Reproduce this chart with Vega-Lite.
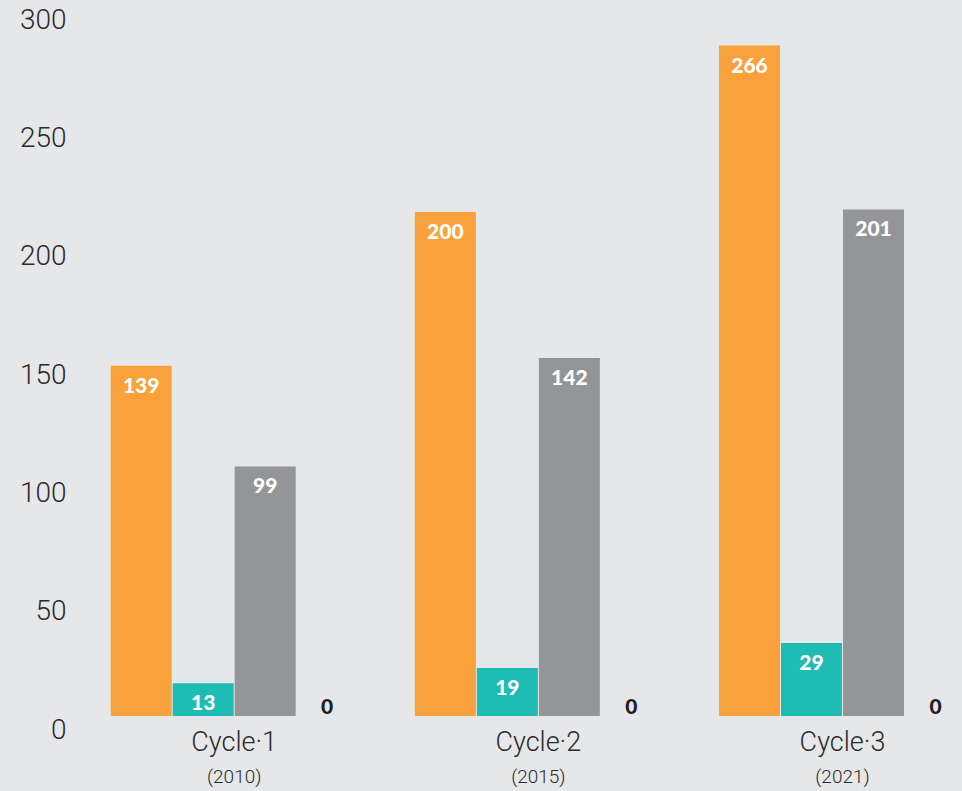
{
  "$schema": "https://vega.github.io/schema/vega-lite/v6.json",
  "width": 882,
  "height": 710,
  "autosize": {"type": "none"},
  "padding": {"left": 80, "top": 6, "right": 0, "bottom": 75},
  "background": "#e6e7e8",
  "config": {"view": {"stroke": null}},
  "data": {
    "values": [
      {"cycle": "Cycle·1", "year": "(2010)", "series": "s1", "value": 139},
      {"cycle": "Cycle·1", "year": "(2010)", "series": "s2", "value": 13},
      {"cycle": "Cycle·1", "year": "(2010)", "series": "s3", "value": 99},
      {"cycle": "Cycle·1", "year": "(2010)", "series": "s4", "value": 0},
      {"cycle": "Cycle·2", "year": "(2015)", "series": "s1", "value": 200},
      {"cycle": "Cycle·2", "year": "(2015)", "series": "s2", "value": 19},
      {"cycle": "Cycle·2", "year": "(2015)", "series": "s3", "value": 142},
      {"cycle": "Cycle·2", "year": "(2015)", "series": "s4", "value": 0},
      {"cycle": "Cycle·3", "year": "(2021)", "series": "s1", "value": 266},
      {"cycle": "Cycle·3", "year": "(2021)", "series": "s2", "value": 29},
      {"cycle": "Cycle·3", "year": "(2021)", "series": "s3", "value": 201},
      {"cycle": "Cycle·3", "year": "(2021)", "series": "s4", "value": 0}
    ]
  },
  "layer": [
    {
      "encoding": {
        "x": {
          "field": "cycle", "type": "nominal",
          "sort": ["Cycle·1", "Cycle·2", "Cycle·3"],
          "scale": {"type": "band", "range": [30.7, 886], "paddingInner": 0.1879, "paddingOuter": 0},
          "axis": {
            "orient": "bottom", "title": null, "domain": false, "ticks": false, "tickSize": 0,
            "labelAngle": 0, "labelFont": "Roboto", "labelFontWeight": 300, "labelFontSize": 27,
            "labelColor": "#2b2b2b", "labelPadding": 13, "labelBaseline": "top"
          }
        },
        "xOffset": {
          "field": "series", "type": "nominal", "sort": ["s1", "s2", "s3", "s4"],
          "scale": {"paddingInner": 0.0161, "paddingOuter": 0}
        },
        "y": {
          "field": "value", "type": "quantitative",
          "scale": {"domain": [0, 281.7], "nice": false, "zero": true},
          "axis": null
        }
      },
      "layer": [
        {
          "mark": {"type": "bar"},
          "encoding": {
            "color": {
              "field": "series", "type": "nominal",
              "scale": {"domain": ["s1", "s2", "s3", "s4"], "range": ["#f9a13a", "#1ebcb2", "#939598", "#939598"]},
              "legend": null
            }
          }
        },
        {
          "transform": [{"filter": "datum.value > 0"}],
          "mark": {"type": "text", "color": "#ffffff", "font": "Lato", "fontWeight": 900, "fontSize": 21, "baseline": "middle", "dy": 21},
          "encoding": {"text": {"field": "value", "type": "quantitative"}}
        },
        {
          "transform": [{"filter": "datum.value == 0"}],
          "mark": {"type": "text", "color": "#231f20", "font": "Lato", "fontWeight": 900, "fontSize": 21, "baseline": "middle", "dy": -8},
          "encoding": {"text": {"field": "value", "type": "quantitative"}}
        }
      ]
    },
    {
      "mark": {"type": "point", "opacity": 0},
      "encoding": {
        "x": {
          "field": "year", "type": "nominal",
          "sort": ["(2010)", "(2015)", "(2021)"],
          "scale": {"type": "band", "range": [30.7, 886], "paddingInner": 0.1879, "paddingOuter": 0},
          "axis": {
            "orient": "bottom", "title": null, "domain": false, "ticks": false, "tickSize": 0,
            "labelAngle": 0, "labelFont": "Roboto", "labelFontWeight": 300, "labelFontSize": 19,
            "labelColor": "#2b2b2b", "labelPadding": 51, "labelBaseline": "top"
          }
        },
        "y": {
          "field": "value", "type": "quantitative",
          "scale": {"domain": [0, 300], "nice": false, "zero": true},
          "axis": {
            "orient": "left", "title": null, "domain": false, "ticks": false, "tickSize": 0, "grid": false,
            "values": [0, 50, 100, 150, 200, 250, 300],
            "labelFont": "Roboto", "labelFontWeight": 300, "labelFontSize": 28, "labelColor": "#2b2b2b",
            "labelPadding": 14, "labelBaseline": "middle", "labelOffset": 14,
            "labelOverlap": false, "labelFlush": false
          }
        }
      }
    }
  ],
  "resolve": {
    "scale": {"x": "independent", "y": "independent"},
    "axis": {"x": "independent", "y": "independent"}
  }
}
